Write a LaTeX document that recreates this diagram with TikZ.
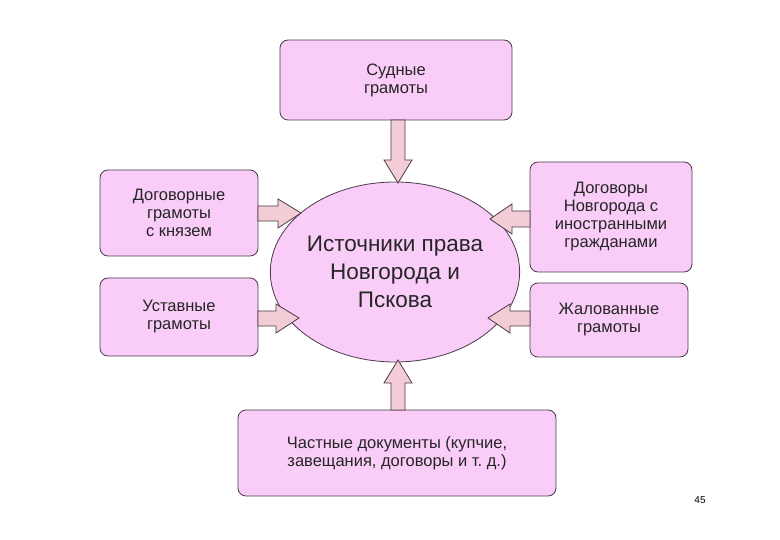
\documentclass[tikz,border=0pt]{standalone}
\usepackage{fontspec}
\setmainfont{Liberation Sans}
\usetikzlibrary{shapes.geometric}
\definecolor{boxfill}{HTML}{F9CDF7}
\definecolor{arrfill}{HTML}{F2CDD6}
\definecolor{edge}{HTML}{4A3A48}
\begin{document}
\begin{tikzpicture}[x=1pt,y=-1pt,
  box/.style={draw=edge,fill=boxfill,rounded corners=8pt,line width=0.8pt,align=center,font=\fontsize{16.5}{18}\selectfont,text=black!85},
  barrow/.style={draw=edge,fill=arrfill,line width=0.8pt,line join=miter}]
\useasboundingbox (0,0) rectangle (780,540);
\node[box,minimum width=232pt,minimum height=80pt] (top) at (396,80) {Судные\\грамоты};
\node[box,minimum width=158pt,minimum height=86pt] (l1) at (179,213) {Договорные\\грамоты\\с князем};
\node[box,minimum width=158pt,minimum height=78pt] (l2) at (179,317) {Уставные\\грамоты};
\node[box,minimum width=162pt,minimum height=110pt] (r1) at (611,217) {Договоры\\Новгорода с\\иностранными\\гражданами};
\node[box,minimum width=158pt,minimum height=74pt] (r2) at (609,320) {Жалованные\\грамоты};
\node[box,minimum width=318pt,minimum height=86pt] (bot) at (397,453) {Частные документы (купчие,\\завещания, договоры и т.~д.)};
\node[draw=edge,fill=boxfill,ellipse,inner sep=0pt,line width=0.8pt,minimum width=236pt,minimum height=180pt,align=center,font=\fontsize{22.5}{28}\selectfont,text=black!85] (c) at (395,272) {Источники права\\Новгорода и\\Пскова};
\node[font=\fontsize{10}{12}\selectfont] (pg) at (700,500) {45};
% arrows
\draw[barrow] (391,120)--(405,120)--(405,160)--(412,160)--(398,183)--(384,160)--(391,160)--cycle;
\draw[barrow] (258,206)--(278,206)--(278,199)--(301,213)--(278,228)--(278,221)--(258,221)--cycle;
\draw[barrow] (258,311)--(276,311)--(276,304)--(299,318)--(276,333)--(276,326)--(258,326)--cycle;
\draw[barrow] (530,211)--(512,211)--(512,204)--(490,219)--(512,234)--(512,227)--(530,227)--cycle;
\draw[barrow] (530,311)--(510,311)--(510,304)--(488,318)--(510,333)--(510,326)--(530,326)--cycle;
\draw[barrow] (391,410)--(405,410)--(405,383)--(412,383)--(398,360)--(384,383)--(391,383)--cycle;
\end{tikzpicture}
\end{document}
